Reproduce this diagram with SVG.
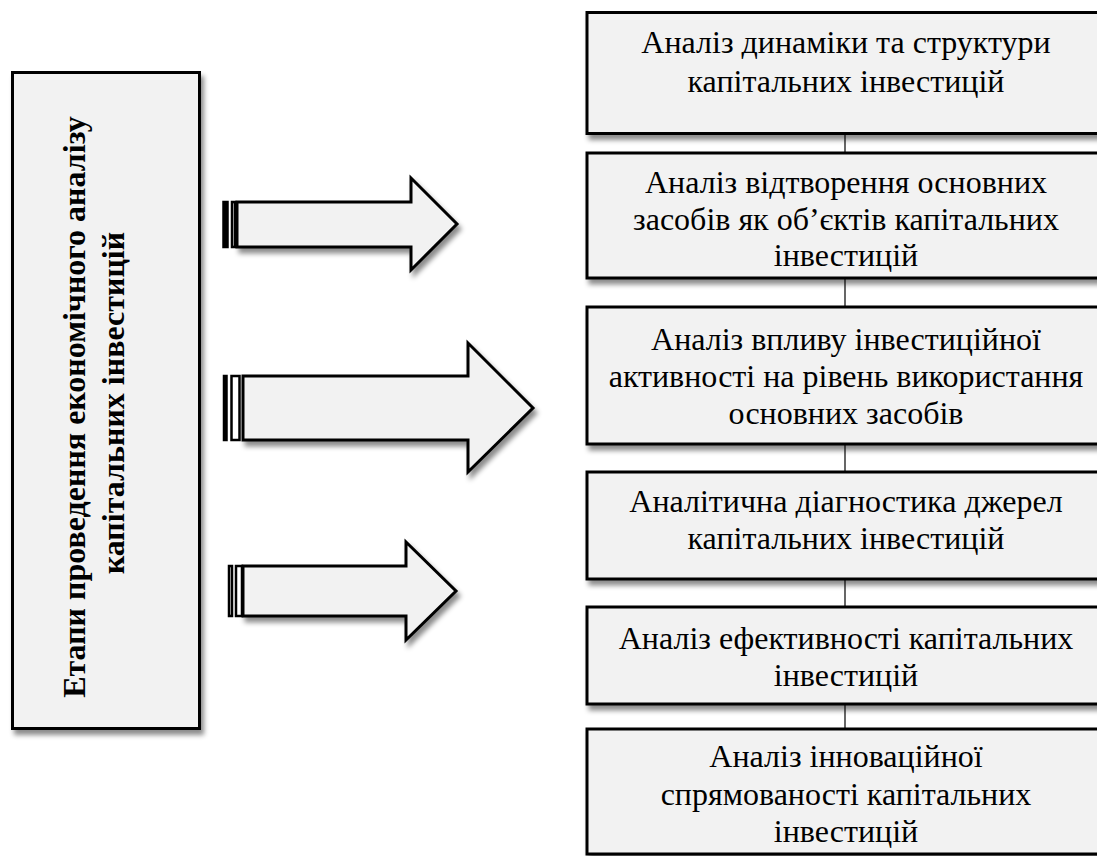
<svg xmlns="http://www.w3.org/2000/svg" width="1097" height="856" viewBox="0 0 1097 856">
<defs>
<filter id="sh" x="-10%" y="-10%" width="130%" height="140%">
<feDropShadow dx="3" dy="5" stdDeviation="2.5" flood-color="#000" flood-opacity="0.45"/>
</filter>
<style>
.box{fill:#f2f2f2;stroke:#000;stroke-width:3;filter:url(#sh)}
.arr{fill:#f2f2f2;stroke:#000;stroke-width:3;stroke-linejoin:miter;filter:url(#sh)}
.stripe{fill:#fff;stroke:#000;stroke-width:2.5}
.t{font-family:"Liberation Serif","DejaVu Serif",serif;font-size:32px;fill:#000;text-anchor:middle}
.tb{font-family:"Liberation Serif","DejaVu Serif",serif;font-size:32px;font-weight:bold;fill:#000;text-anchor:middle}
.conn{stroke:#000;stroke-width:1.2;fill:none}
</style>
</defs>
<rect width="1097" height="856" fill="#fff"/>
<g id="connectors">
<line class="conn" x1="845" y1="134" x2="845" y2="153"/>
<line class="conn" x1="845" y1="278" x2="845" y2="307"/>
<line class="conn" x1="845" y1="444" x2="845" y2="472"/>
<line class="conn" x1="845" y1="579" x2="845" y2="607"/>
<line class="conn" x1="845" y1="704" x2="845" y2="729"/>
</g>
<g id="main">
<rect class="box" x="12.5" y="72.5" width="187" height="656"/>
<text class="tb" transform="translate(85,407) rotate(-90)">Етапи проведення економічного аналізу</text>
<text class="tb" transform="translate(124,403) rotate(-90)">капітальних інвестицій</text>
</g>
<g id="arrow1">
<path class="arr" d="M237,202 L411,202 L411,178 L457,224 L411,270 L411,247 L237,247 Z"/>
<rect x="223.5" y="202" width="4" height="45" fill="#000" stroke="#000" stroke-width="2.5"/>
<rect class="stripe" x="232" y="202" width="3" height="45"/>
</g>
<g id="arrow2">
<path class="arr" d="M243,376 L468,376 L468,343 L533,408 L468,472 L468,440 L243,440 Z"/>
<rect class="stripe" x="224" y="376" width="2.5" height="64"/>
<rect class="stripe" x="231.5" y="376" width="8" height="64"/>
</g>
<g id="arrow3">
<path class="arr" d="M243,566 L406,566 L406,542 L456,591 L406,640 L406,616 L243,616 Z"/>
<rect class="stripe" x="229" y="566" width="3" height="50"/>
<rect class="stripe" x="236" y="566" width="6" height="50"/>
</g>
<g id="step1">
<rect class="box" x="587" y="12.5" width="520" height="121"/>
<text class="t" x="846" y="53">Аналіз динаміки та структури</text>
<text class="t" x="846" y="92">капітальних інвестицій</text>
</g>
<g id="step2">
<rect class="box" x="587" y="153" width="520" height="125"/>
<text class="t" x="846" y="193">Аналіз відтворення основних</text>
<text class="t" x="846" y="230">засобів як об’єктів капітальних</text>
<text class="t" x="846" y="266">інвестицій</text>
</g>
<g id="step3">
<rect class="box" x="587" y="307" width="520" height="137"/>
<text class="t" x="846" y="350">Аналіз впливу інвестиційної</text>
<text class="t" x="846" y="387">активності на рівень використання</text>
<text class="t" x="846" y="424">основних засобів</text>
</g>
<g id="step4">
<rect class="box" x="587" y="472" width="520" height="107"/>
<text class="t" x="846" y="512">Аналітична діагностика джерел</text>
<text class="t" x="846" y="549">капітальних інвестицій</text>
</g>
<g id="step5">
<rect class="box" x="587" y="607" width="520" height="97"/>
<text class="t" x="846" y="649">Аналіз ефективності капітальних</text>
<text class="t" x="846" y="686">інвестицій</text>
</g>
<g id="step6">
<rect class="box" x="587" y="729" width="520" height="125"/>
<text class="t" x="846" y="767">Аналіз інноваційної</text>
<text class="t" x="846" y="805">спрямованості капітальних</text>
<text class="t" x="846" y="842">інвестицій</text>
</g>
</svg>
